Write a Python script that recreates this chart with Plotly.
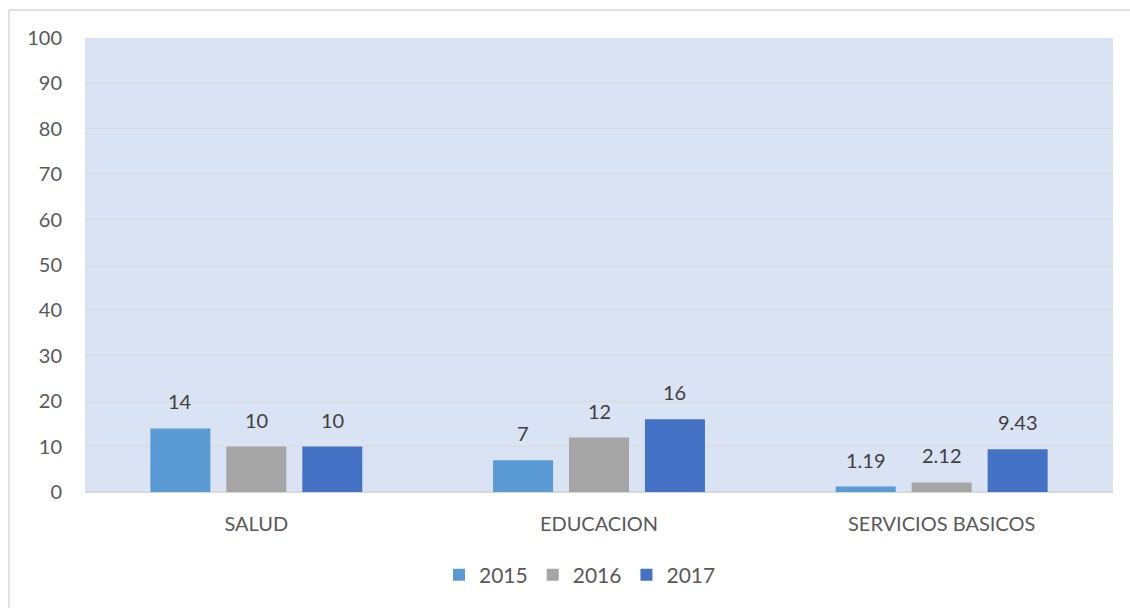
import plotly.graph_objects as go

categories = ["SALUD", "EDUCACION", "SERVICIOS BASICOS"]
series_names = ["2015", "2016", "2017"]
v2015 = [14, 7, 1.19]
v2016 = [10, 12, 2.12]
v2017 = [10, 16, 9.43]
labels2015 = ["14", "7", "1.19"]
labels2016 = ["10", "12", "2.12"]
labels2017 = ["10", "16", "9.43"]
y_ticks = [0, 10, 20, 30, 40, 50, 60, 70, 80, 90, 100]

colors = ["#5B9BD5", "#A5A5A5", "#4472C4"]
FONT = "Lato"
W, H = 1130, 608
ml, mr, mt, mb = 85, 17, 38, 116
pw, ph = W - ml - mr, H - mt - mb

fig = go.Figure()
all_vals = [v2015, v2016, v2017]
all_labels = [labels2015, labels2016, labels2017]
for name, vals, col in zip(series_names, all_vals, colors):
    fig.add_trace(go.Bar(x=categories, y=vals, name=name, marker=dict(color=col, line=dict(width=0))))

# data labels as annotations
slot = pw / 3 * (1 - 0.335) / 3
for i, (vals, labs) in enumerate(zip(all_vals, all_labels)):
    for c, v, t in zip(categories, vals, labs):
        fig.add_annotation(x=c, y=v, text=t, showarrow=False, xref="x", yref="y",
                           xshift=(i - 1) * slot, yanchor="bottom", yshift=13,
                           font=dict(family=FONT, size=20, color="#404040"))

# outer border
fig.add_shape(type="line", xref="paper", yref="paper",
              x0=(9 - ml) / pw, x1=(W + 5 - ml) / pw, y0=(H - mb - 10) / ph, y1=(H - mb - 10) / ph,
              line=dict(color="#D9D9D9", width=1.5))
fig.add_shape(type="line", xref="paper", yref="paper",
              x0=(9 - ml) / pw, x1=(9 - ml) / pw, y0=(H - mb - 10) / ph, y1=(H - mb - H - 5) / ph,
              line=dict(color="#D9D9D9", width=1.5))

fig.update_layout(
    width=W, height=H,
    margin=dict(l=ml, r=mr, t=mt, b=mb),
    paper_bgcolor="white", plot_bgcolor="#DAE3F3",
    barmode="group", bargap=0.335, bargroupgap=0.21,
    font=dict(family=FONT, size=20, color="#595959"),
    showlegend=True,
    legend=dict(orientation="h", x=0.4815, xanchor="center", y=-0.183, yanchor="middle",
                font=dict(family=FONT, size=21, color="#595959"), itemwidth=30,
                traceorder="normal"),
    xaxis=dict(showgrid=False, ticks="", tickfont=dict(family=FONT, size=20, color="#595959"),
               showline=False, ticklabelstandoff=18),
    yaxis=dict(range=[0, 100], tickvals=y_ticks, showgrid=True, gridcolor="#D9D9D9", gridwidth=1.2,
               zeroline=True, zerolinecolor="#D9D9D9", zerolinewidth=1.5, showline=False,
               tickfont=dict(family=FONT, size=20, color="#595959"), ticks="", ticklabelstandoff=22),
)

fig.write_html("out.html")
